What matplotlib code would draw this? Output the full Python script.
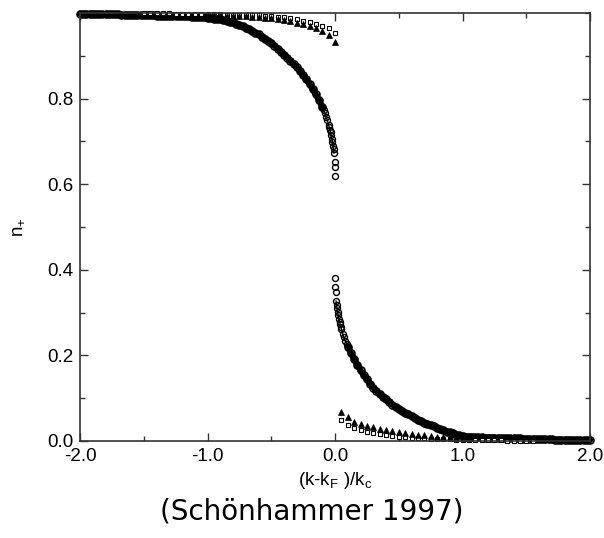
import numpy as np
import matplotlib
matplotlib.use("Agg")
import matplotlib.pyplot as plt
from matplotlib.ticker import MultipleLocator, FormatStrFormatter

# occupation n_+
# circles, left branch (k < k_F), coarse part on a 0.025 grid
circ_x_left = np.linspace(-2.0, -0.1, 77)
circ_n_left = [0.998, 0.998, 0.998, 0.998, 0.998, 0.998, 0.997, 0.997, 0.997, 0.997,
               0.997, 0.997, 0.997, 0.996, 0.996, 0.996, 0.996, 0.996, 0.996, 0.995,
               0.995, 0.995, 0.995, 0.995, 0.994, 0.994, 0.994, 0.994, 0.993, 0.993,
               0.993, 0.993, 0.992, 0.992, 0.992, 0.991, 0.991, 0.991, 0.990, 0.990,
               0.989, 0.988, 0.987, 0.986, 0.985, 0.983, 0.982, 0.980, 0.978, 0.975,
               0.972, 0.969, 0.966, 0.962, 0.958, 0.954, 0.950, 0.945, 0.940, 0.935,
               0.930, 0.924, 0.917, 0.910, 0.903, 0.896, 0.889, 0.881, 0.873, 0.864,
               0.855, 0.845, 0.834, 0.822, 0.810, 0.796, 0.780]
# circles close to k_F (finer grid)
circ_x_left0 = [-0.1, -0.09, -0.08, -0.07, -0.06, -0.05, -0.045, -0.04, -0.035, -0.03,
                -0.025, -0.02, -0.016, -0.012, -0.008, -0.004, -0.002, -0.001]
circ_n_left0 = [0.780, 0.773, 0.766, 0.758, 0.749, 0.738, 0.733, 0.727, 0.721, 0.714,
                0.706, 0.698, 0.690, 0.682, 0.673, 0.652, 0.640, 0.619]
circ_x_right0 = [0.001, 0.002, 0.004, 0.008, 0.012, 0.016, 0.02, 0.025, 0.03, 0.035,
                 0.04, 0.045, 0.05, 0.06, 0.07, 0.08, 0.09, 0.1]
circ_n_right0 = [0.381, 0.360, 0.348, 0.327, 0.318, 0.310, 0.302, 0.294, 0.286, 0.279,
                 0.273, 0.267, 0.262, 0.251, 0.242, 0.234, 0.227, 0.220]
# circles, right branch (k > k_F)
circ_x_right = np.linspace(0.1, 2.0, 77)
circ_n_right = [0.220, 0.206, 0.192, 0.178, 0.165, 0.154, 0.144, 0.134, 0.125, 0.117,
                0.110, 0.103, 0.097, 0.091, 0.085, 0.080, 0.075, 0.070, 0.066, 0.062,
                0.058, 0.054, 0.050, 0.047, 0.043, 0.040, 0.037, 0.034, 0.031, 0.028,
                0.025, 0.022, 0.020, 0.018, 0.015, 0.013, 0.011, 0.010, 0.010, 0.010,
                0.009, 0.009, 0.009, 0.008, 0.008, 0.008, 0.008, 0.007, 0.007, 0.007,
                0.007, 0.006, 0.006, 0.006, 0.006, 0.005, 0.005, 0.005, 0.005, 0.005,
                0.004, 0.004, 0.004, 0.004, 0.004, 0.003, 0.003, 0.003, 0.003, 0.003,
                0.003, 0.002, 0.002, 0.002, 0.002, 0.002, 0.002]

# open squares
sq_x_left = np.linspace(-1.5, 0.0, 31)
sq_n_left = [0.999, 0.999, 0.999, 0.999, 0.999, 0.998, 0.998, 0.998, 0.998, 0.998,
             0.997, 0.997, 0.997, 0.996, 0.996, 0.996, 0.995, 0.995, 0.995, 0.994,
             0.993, 0.991, 0.990, 0.988, 0.985, 0.982, 0.979, 0.974, 0.970, 0.964, 0.953]
sq_x_right = np.linspace(0.05, 1.55, 31)
sq_n_right = [0.049, 0.037, 0.030, 0.026, 0.022, 0.018, 0.016, 0.013, 0.012, 0.010,
              0.009, 0.008, 0.007, 0.006, 0.005, 0.005, 0.004, 0.004, 0.003, 0.003,
              0.003, 0.002, 0.002, 0.002, 0.002, 0.002, 0.001, 0.001, 0.001, 0.001, 0.001]

# filled triangles
tri_x_left = np.linspace(-1.0, 0.0, 21)
tri_n_left = [0.996, 0.995, 0.995, 0.994, 0.994, 0.993, 0.992, 0.991, 0.990, 0.989,
              0.988, 0.986, 0.984, 0.981, 0.977, 0.974, 0.970, 0.965, 0.959, 0.949, 0.933]
tri_x_right = np.linspace(0.05, 1.05, 21)
tri_n_right = [0.068, 0.057, 0.045, 0.040, 0.035, 0.032, 0.029, 0.026, 0.023, 0.020,
               0.018, 0.016, 0.015, 0.013, 0.012, 0.010, 0.009, 0.009, 0.008, 0.007, 0.006]

plt.rcParams['font.family'] = ['Liberation Sans', 'DejaVu Sans']

fig = plt.figure(figsize=(6.04, 5.38), dpi=100)
ax = fig.add_axes([0.1325, 0.1803, 0.8444, 0.7955])

# the dense circles merge into a solid band away from k_F
band = dict(ls='-', lw=4.4, color='black', marker='o', ms=5.0, mfc='none',
            mec='black', mew=1.2, clip_on=False, solid_capstyle='round')
ax.plot(circ_x_left, circ_n_left, **band)
ax.plot(circ_x_right, circ_n_right, **band)

circ = dict(ls='-', lw=1.0, color='black', marker='o', ms=4.3, mfc='none',
            mec='black', mew=1.0, clip_on=False)
ax.plot(circ_x_left0[:-3], circ_n_left0[:-3], **circ)
ax.plot(circ_x_right0[3:], circ_n_right0[3:], **circ)
circ_sep = dict(ls='none', marker='o', ms=4.3, mfc='none', mec='black', mew=1.0, clip_on=False)
ax.plot(circ_x_left0[-3:], circ_n_left0[-3:], **circ_sep)
ax.plot(circ_x_right0[:3], circ_n_right0[:3], **circ_sep)

sq = dict(ls='none', marker='s', ms=3.5, mfc='white', mec='black', mew=0.8, clip_on=False)
ax.plot(sq_x_left, sq_n_left, **sq)
ax.plot(sq_x_right, sq_n_right, **sq)

tri = dict(ls='none', marker='^', ms=4.6, mfc='black', mec='black', mew=0.5, clip_on=False)
ax.plot(tri_x_left, tri_n_left, **tri)
ax.plot(tri_x_right, tri_n_right, **tri)

ax.set_xlim(-2.0, 2.0)
ax.set_ylim(0.0, 1.0)
ax.xaxis.set_major_locator(MultipleLocator(1.0))
ax.xaxis.set_minor_locator(MultipleLocator(0.5))
ax.set_yticks([0.0, 0.2, 0.4, 0.6, 0.8])
ax.yaxis.set_minor_locator(MultipleLocator(0.1))
ax.xaxis.set_major_formatter(FormatStrFormatter('%.1f'))
ax.yaxis.set_major_formatter(FormatStrFormatter('%.1f'))
ax.tick_params(which='both', direction='in', top=True, right=True, width=1, color='#333333')
ax.tick_params(which='major', length=6, labelsize=13.5, pad=5)
ax.tick_params(which='minor', length=3.5)
for s in ax.spines.values():
    s.set_color('#333333')
    s.set_linewidth(1.2)

ax.set_xlabel(r'(k-k$_\mathregular{F}$ )/k$_\mathregular{c}$', fontsize=13.5, labelpad=4)
ax.set_ylabel(r'n$_\mathregular{+}$', fontsize=13.5, labelpad=14)

fig.text(0.516, 0.049, '(Schönhammer 1997)', fontsize=20, family='DejaVu Sans',
         ha='center', va='center')

fig.savefig('out.png', dpi=100)
